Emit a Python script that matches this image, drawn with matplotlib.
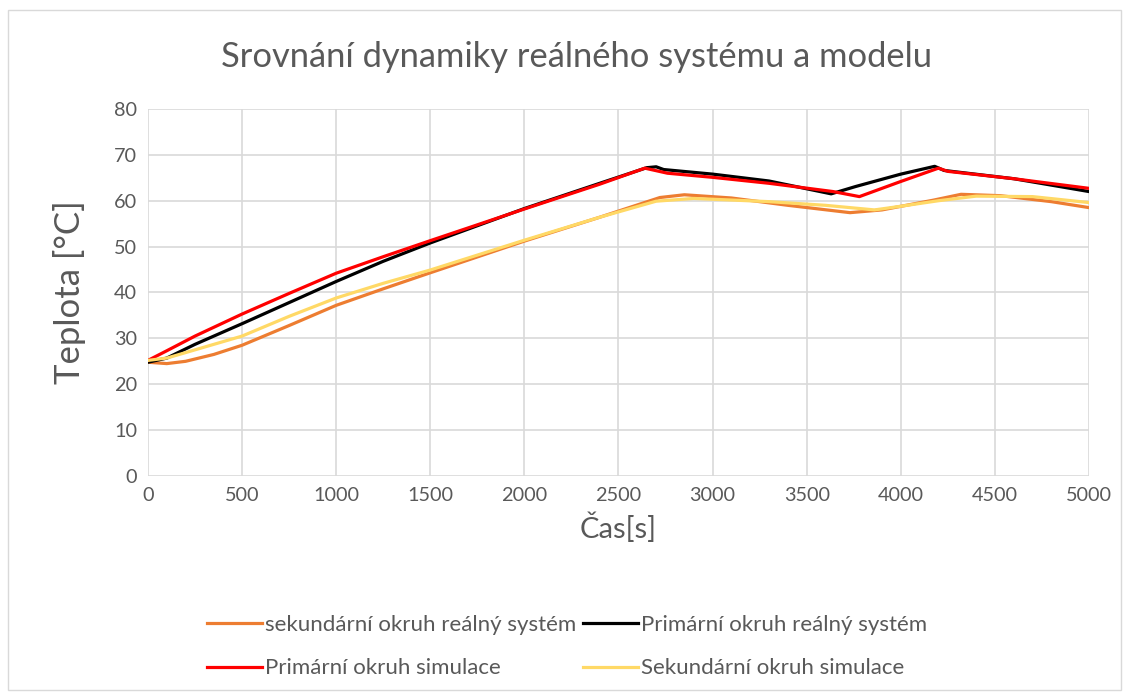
import matplotlib
matplotlib.use("Agg")
import matplotlib.pyplot as plt
from matplotlib.patches import Rectangle

plt.rcParams['font.family'] = ['Lato', 'DejaVu Sans']

# data
t_prim_sim = [0, 100, 250, 500, 750, 1000, 1250, 1500, 2000, 2400, 2640, 2760, 3000, 3300, 3640, 3780, 4000, 4200, 4250, 4600, 5000]
T_prim_sim = [25.2, 27.3, 30.5, 35.3, 39.8, 44.2, 47.8, 51.3, 58.2, 63.6, 67.1, 66.0, 65.1, 63.8, 62.0, 60.9, 64.2, 67.1, 66.4, 64.8, 62.7]

t_prim_real = [0, 100, 250, 500, 750, 1000, 1250, 1500, 2000, 2400, 2650, 2700, 2740, 3000, 3300, 3630, 3760, 4000, 4180, 4230, 4600, 5000]
T_prim_real = [24.8, 25.7, 28.7, 33.2, 37.8, 42.4, 46.8, 50.8, 58.3, 63.8, 67.2, 67.4, 66.8, 65.8, 64.3, 61.5, 63.1, 65.8, 67.5, 66.6, 64.8, 62.0]

t_sek_real = [0, 100, 200, 350, 500, 750, 1000, 1250, 1500, 2000, 2400, 2720, 2850, 3100, 3400, 3730, 3900, 4170, 4320, 4530, 4800, 5000]
T_sek_real = [24.8, 24.5, 25.0, 26.5, 28.5, 32.8, 37.2, 40.8, 44.3, 51.2, 56.4, 60.7, 61.3, 60.6, 59.0, 57.4, 58.0, 60.1, 61.4, 61.1, 59.8, 58.5]

t_sek_sim = [0, 100, 250, 500, 750, 1000, 1250, 1500, 2000, 2400, 2700, 2900, 3300, 3600, 3860, 4000, 4200, 4400, 4700, 5000]
T_sek_sim = [25.2, 25.7, 27.5, 30.5, 34.8, 38.8, 42.0, 44.9, 51.4, 56.4, 59.9, 60.5, 59.8, 59.0, 58.0, 58.8, 60.0, 61.0, 60.9, 59.6]

txt = '#595959'
grid = '#d9d9d9'

fig = plt.figure(figsize=(11.27, 6.95), dpi=100)
ax = fig.add_axes([0.1313, 0.3151, 0.8350, 0.5281])

# ramecek okolo grafu
fig.patches.append(Rectangle((8 / 1127, 5 / 695), 1113 / 1127, 680 / 695, transform=fig.transFigure,
                             fill=False, edgecolor=grid, lw=1))

l1, = ax.plot(t_sek_real, T_sek_real, color='#ED7D31', lw=2.3, label='sekundární okruh reálný systém')
l2, = ax.plot(t_prim_real, T_prim_real, color='black', lw=2.3, label='Primární okruh reálný systém')
l3, = ax.plot(t_prim_sim, T_prim_sim, color='#FF0000', lw=2.3, label='Primární okruh simulace')
l4, = ax.plot(t_sek_sim, T_sek_sim, color='#FFD966', lw=2.3, label='Sekundární okruh simulace')

ax.set_xlim(0, 5000)
ax.set_ylim(0, 80)
ax.set_xticks(range(0, 5001, 500))
ax.set_yticks(range(0, 81, 10))
ax.grid(True, color=grid, lw=1.2)
ax.set_axisbelow(True)
for s in ax.spines.values():
    s.set_visible(False)
ax.tick_params(length=0, colors=txt, labelsize=14.3, pad=8)

ax.set_title('Srovnání dynamiky reálného systému a modelu', color=txt, fontsize=24.8, pad=30, x=0.455)
ax.set_xlabel('Čas[s]', color=txt, fontsize=21, labelpad=6)
ax.set_ylabel('Teplota [°C]', color=txt, fontsize=25, labelpad=20)

fig.legend([l1, l3, l2, l4], [l1.get_label(), l3.get_label(), l2.get_label(), l4.get_label()],
           ncol=2, frameon=False, loc='lower left', bbox_to_anchor=(0.1656, -0.005),
           fontsize=16, labelcolor=txt, handlelength=2.5, handletextpad=0.12,
           columnspacing=0.3, labelspacing=1.05)

fig.savefig('out.png', dpi=100)
